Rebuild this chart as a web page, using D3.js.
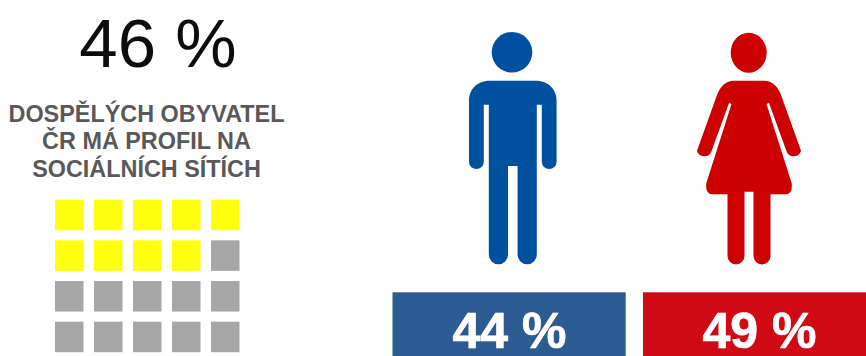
<!DOCTYPE html>
<html lang="cs">
<head>
<meta charset="utf-8">
<title>Profily na sociálních sítích</title>
<script src="https://cdn.jsdelivr.net/npm/d3@7"></script>
<style>
  html, body { margin: 0; padding: 0; background: #fff; }
  svg { display: block; }
  text { font-family: "Liberation Sans", Arial, sans-serif; }
</style>
</head>
<body>
<svg id="chart" width="866" height="356"></svg>
<script>
// Values
const overallShare = 46;
const headlineLines = ["DOSPĚLÝCH OBYVATEL", "ČR MÁ PROFIL NA", "SOCIÁLNÍCH SÍTÍCH"];
const groups = ["muži", "ženy"];
const groupShares = [44, 49];
const groupBannerColors = ["#2c5b92", "#cf0a14"];
const groupFigureColors = ["#0050a0", "#cc0000"];
const waffleColumns = [0, 1, 2, 3, 4];
const waffleRows = [0, 1, 2, 3];
const waffleFilled = 9;

// Pictogram outlines, in local units around the shoulder line
const figureBodies = [
  "M-23,0H23C36,0 43.8,9 43.8,20V81A7.4,7.4 0 0 1 29,81V24H24V174A9.6,9.6 0 0 1 4.8,174V85.3H-4.8V174A9.6,9.6 0 0 1 -24,174V24H-29V81A7.4,7.4 0 0 1 -43.8,81V20C-43.8,9 -36,0 -23,0Z",
  "M-15,0H15C24,0 30,7 33,17L52,70A7.6,7.6 0 0 1 37.7,71L20,22.3L17.5,23.3L42.7,102.6Q44,113.6 36,113.6H21.5V175.2A8.5,8.5 0 0 1 4.5,175.2V111H-4.5V175.2A8.5,8.5 0 0 1 -21.5,175.2V113.6H-36Q-44,113.6 -42.7,102.6L-17.5,23.3L-20,22.3L-37.7,71A7.6,7.6 0 0 1 -52,70L-33,17C-30,7 -24,0 -15,0Z"
];
const figureHeads = [[-0.8, -28.4, 20.3, 20.3], [-0.3, -28, 18, 20]];

const svg = d3.select("#chart");

// Headline number and caption
svg.append("text")
  .attr("x", 158).attr("y", 67)
  .attr("text-anchor", "middle")
  .attr("font-size", 69)
  .attr("fill", "#0d0d0d")
  .text(`${overallShare} %`);

svg.append("g").selectAll("text")
  .data(headlineLines)
  .join("text")
  .attr("x", 146.5)
  .attr("y", (d, i) => 121.5 + i * 27.6)
  .attr("text-anchor", "middle")
  .attr("font-size", 23.4)
  .attr("font-weight", 700)
  .attr("fill", "#595959")
  .text(d => d);

// Waffle of twenty squares, each standing for five percent
const wx = d3.scaleBand().domain(waffleColumns).range([55, 239.5]).paddingInner(0.27);
const wy = d3.scaleBand().domain(waffleRows).range([199.7, 352.2]).paddingInner(0.25);
const cells = waffleRows.flatMap(r => waffleColumns.map(c => ({ r, c })));

svg.append("g").selectAll("rect")
  .data(cells)
  .join("rect")
  .attr("x", d => wx(d.c))
  .attr("y", d => wy(d.r))
  .attr("width", wx.bandwidth())
  .attr("height", wy.bandwidth())
  .attr("fill", (d, i) => i < waffleFilled ? "#ffff0f" : "#a6a6a6");

// One column per group: pictogram above a labelled banner
const bannerX = d3.scaleOrdinal().domain(groups).range([392.5, 643]);
const bannerW = d3.scaleOrdinal().domain(groups).range([233.2, 223]);
const labelX = d3.scaleOrdinal().domain(groups).range([509.5, 759.5]);
const figureX = d3.scaleOrdinal().domain(groups).range([512.8, 749]);
const bannerTop = 292.3;
const shoulderY = 80.7;

const column = svg.append("g").selectAll("g")
  .data(groups)
  .join("g");

column.append("g")
  .attr("transform", d => `translate(${figureX(d)},${shoulderY})`)
  .attr("fill", (d, i) => groupFigureColors[i])
  .each(function (d, i) {
    const g = d3.select(this);
    const [cx, cy, rx, ry] = figureHeads[i];
    g.append("ellipse").attr("cx", cx).attr("cy", cy).attr("rx", rx).attr("ry", ry);
    g.append("path").attr("d", figureBodies[i]);
  });

column.append("rect")
  .attr("x", d => bannerX(d))
  .attr("y", bannerTop)
  .attr("width", d => bannerW(d))
  .attr("height", 356 - bannerTop)
  .attr("fill", (d, i) => groupBannerColors[i]);

column.append("text")
  .attr("x", d => labelX(d))
  .attr("y", 348)
  .attr("text-anchor", "middle")
  .attr("font-size", 50)
  .attr("font-weight", 700)
  .attr("fill", "#fff")
  .attr("stroke", "#fff")
  .attr("stroke-width", 0.7)
  .text((d, i) => `${groupShares[i]} %`);
</script>
</body>
</html>
